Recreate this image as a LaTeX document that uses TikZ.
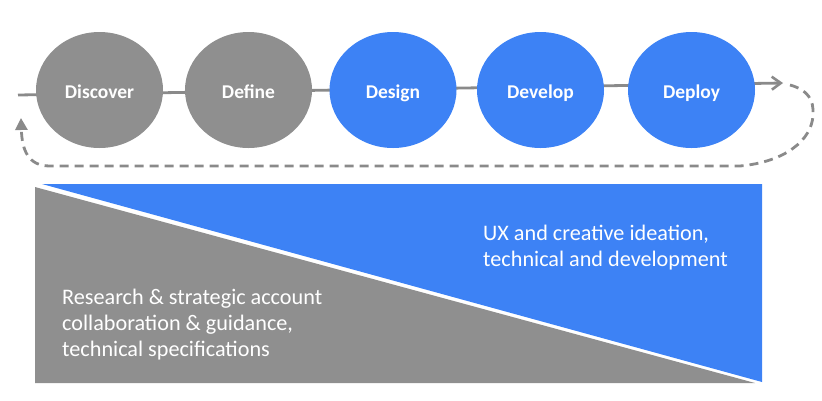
\documentclass[tikz,border=0pt]{standalone}
\usepackage{fontspec}
\setmainfont{Carlito}
\usepackage{tikz}
\usetikzlibrary{arrows.meta}
\usetikzlibrary{shapes.geometric}
\definecolor{mgray}{rgb}{0.56, 0.56, 0.56}
\definecolor{lgray}{rgb}{0.54, 0.54, 0.54}
\definecolor{mblue}{rgb}{0.24, 0.51, 0.96}
\tikzset{stage/.style = {ellipse, inner sep = 0, minimum width = 127, minimum height = 116,
                         text = white, font = \fontsize{19.5}{20}\selectfont\bfseries,
                         text height = 20, text depth = 4}}
\tikzset{flow/.style = {lgray, line width = 2.8, -{Straight Barb[length = 9, width = 13, line width = 2.6]}}}
\tikzset{back/.style = {lgray, line width = 2.8, dash pattern = on 9 off 6,
                        -{Triangle[length = 12, width = 12]}}}
\tikzset{note/.style = {text = white, align = left, inner sep = 0, font = \fontsize{22.2}{26}\selectfont}}

\begin{document}
\begin{tikzpicture}[x = 1pt, y = -1pt]
      \useasboundingbox (0, 0) rectangle (822, 400);

      \coordinate (lstart) at (18, 95);
      \coordinate (lend) at (783, 83);
      \coordinate (lback) at (790, 85);
      \coordinate (lhome) at (21, 118);

      \draw [flow] (lstart) -- (lend);
      \draw [back] (lback) .. controls (808, 90) and (814, 100) .. (813, 115)
                           .. controls (812, 140) and (785, 162) .. (740, 166) -- (50, 166)
                           .. controls (28, 166) and (22, 150) .. (lhome);

      \node [stage, fill = mgray] (discover) at (99.5, 90) {Discover};
      \node [stage, fill = mgray] (define) at (248.5, 90) {Define};
      \node [stage, fill = mblue] (design) at (393, 90) {Design};
      \node [stage, fill = mblue] (develop) at (540.5, 90) {Develop};
      \node [stage, fill = mblue] (deploy) at (691.5, 90) {Deploy};

      \fill [mblue] (42, 184) -- (762, 184) -- (762, 382) -- cycle;
      \fill [mgray] (35, 187) -- (755, 383) -- (35, 383) -- cycle;

      \node [note, anchor = north west] (ux) at (483, 224.5) {UX and creative ideation,\\technical and development};
      \node [note, anchor = north west] (research) at (62, 289) {Research \& strategic account\\collaboration \& guidance,\\technical specifications};
    \end{tikzpicture}
\end{document}
